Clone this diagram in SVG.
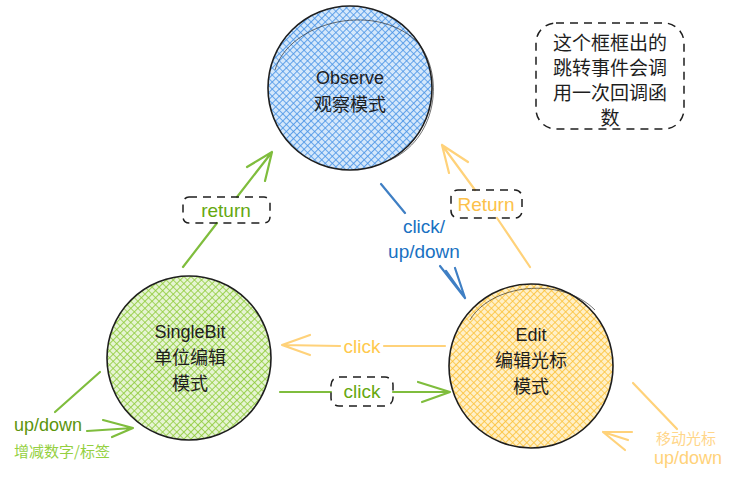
<svg xmlns="http://www.w3.org/2000/svg" width="736" height="480" viewBox="0 0 736 480">
<style>
.t{font-family:"Liberation Sans","Noto Sans CJK SC",sans-serif;text-anchor:middle;dominant-baseline:central}
.cj{font-family:"Noto Sans CJK SC","Liberation Sans",sans-serif;text-anchor:middle;dominant-baseline:central}
.node{stroke:#1e1e1e;stroke-width:1.6}
.sk{fill:none;stroke:#1e1e1e;stroke-width:0.9;opacity:.7}
.dash{fill:none;stroke:#1e1e1e;stroke-width:1.5;stroke-dasharray:8 6}
.ln{fill:none;stroke-width:2.2;stroke-linecap:round;stroke-linejoin:round}
.g{stroke:#7fbd3d}
.b{stroke:#3f7fc4}
.y{stroke:#ffd27a}
</style>
<defs>
<pattern id="hb" width="5" height="5" patternUnits="userSpaceOnUse" patternTransform="rotate(45)">
<rect width="5" height="5" fill="#d5e8fb"/>
<path d="M0 0V5M0 0H5" stroke="#4a94e6" stroke-width="1.7"/>
</pattern>
<pattern id="hg" width="5" height="5" patternUnits="userSpaceOnUse" patternTransform="rotate(45)">
<rect width="5" height="5" fill="#e6f4d3"/>
<path d="M0 0V5M0 0H5" stroke="#8fcb3a" stroke-width="1.7"/>
</pattern>
<pattern id="hy" width="5" height="5" patternUnits="userSpaceOnUse" patternTransform="rotate(45)">
<rect width="5" height="5" fill="#fff0c8"/>
<path d="M0 0V5M0 0H5" stroke="#fcc23a" stroke-width="1.7"/>
</pattern>
</defs>

<g id="connectors">
<!-- green return: SingleBit -> Observe -->
<path class="ln g" d="M183 267L217 223M237 197L272 152M247 167L272 152L265 181"/>
<!-- blue click/up/down: Observe -> Edit -->
<path class="ln b" d="M381 184L405 213M446 271L465 298M440 266L465 298L455 268"/>
<!-- yellow Return: Edit -> Observe -->
<path class="ln y" d="M530 267L497 218M475 190L442 145M468 162L442 145L449 173"/>
<!-- yellow click: Edit -> SingleBit -->
<path class="ln y" d="M445 346L384 346M340 346L282 345M310 335L282 345L310 355"/>
<!-- green click: SingleBit -> Edit -->
<path class="ln g" d="M280 392L331 392M393 392L450 392M418 382L450 392L422 402"/>
<!-- green up/down self loop -->
<path class="ln g" d="M100 372L55 412M87 431L133 428M103 420L133 428L112 437"/>
<!-- yellow self loop -->
<path class="ln y" d="M633 383L677 429M628 440L603 432M632 432L603 432L625 450"/>
</g>

<g id="observe">
<circle class="node" cx="350" cy="88" r="82" fill="url(#hb)"/>
<path class="sk" d="M275 70C290 20 380 0 420 45C445 80 435 140 390 160"/>
<text class="t" x="350" y="78" font-size="18" fill="#1e1e1e">Observe</text>
<text class="cj" x="350" y="103" font-size="18" fill="#1e1e1e">观察模式</text>
</g>

<g id="singlebit">
<circle class="node" cx="189" cy="358" r="82" fill="url(#hg)"/>
<text class="t" x="190" y="332" font-size="18" fill="#1e1e1e">SingleBit</text>
<text class="cj" x="190" y="356" font-size="18" fill="#1e1e1e">单位编辑</text>
<text class="cj" x="190" y="382" font-size="18" fill="#1e1e1e">模式</text>
</g>

<g id="edit">
<circle class="node" cx="531" cy="366" r="82" fill="url(#hy)"/>
<path class="sk" d="M470 320C490 285 560 275 595 310"/>
<text class="t" x="531" y="335" font-size="18" fill="#1e1e1e">Edit</text>
<text class="cj" x="531" y="359" font-size="18" fill="#1e1e1e">编辑光标</text>
<text class="cj" x="531" y="385" font-size="18" fill="#1e1e1e">模式</text>
</g>

<g id="note">
<rect class="dash" x="536" y="23" width="148" height="106" rx="20"/>
<text class="cj" x="610" y="41" font-size="19" fill="#1e1e1e">这个框框出的</text>
<text class="cj" x="610" y="66" font-size="19" fill="#1e1e1e">跳转事件会调</text>
<text class="cj" x="610" y="91" font-size="19" fill="#1e1e1e">用一次回调函</text>
<text class="cj" x="610" y="116" font-size="19" fill="#1e1e1e">数</text>
</g>

<g id="label-return">
<rect class="dash" x="183" y="197" width="87" height="26" rx="6"/>
<text class="t" x="226" y="210" font-size="19" fill="#66a80f">return</text>
</g>

<g id="label-Return">
<rect class="dash" x="451" y="190" width="71" height="28" rx="7"/>
<text class="t" x="486" y="204" font-size="19" fill="#fcc14a">Return</text>
</g>

<g id="label-click-up-down">
<text class="t" x="424" y="226" font-size="19" fill="#1971c2">click/</text>
<text class="t" x="424" y="251" font-size="19" fill="#1971c2">up/down</text>
</g>

<g id="label-click-yellow">
<text class="t" x="362" y="346" font-size="19" fill="#ffc94d">click</text>
</g>

<g id="label-click-green">
<rect class="dash" x="331" y="377" width="62" height="29" rx="8"/>
<text class="t" x="362" y="391" font-size="19" fill="#66a80f">click</text>
</g>

<g id="label-singlebit-loop">
<text class="t" x="48" y="425" font-size="18" fill="#5c940d">up/down</text>
<text class="cj" x="62" y="450" font-size="15" fill="#94d03f">增减数字/标签</text>
</g>

<g id="label-edit-loop">
<text class="cj" x="686" y="437" font-size="15" fill="#ffd68a">移动光标</text>
<text class="t" x="688" y="458" font-size="18" fill="#ffd27a">up/down</text>
</g>
</svg>
